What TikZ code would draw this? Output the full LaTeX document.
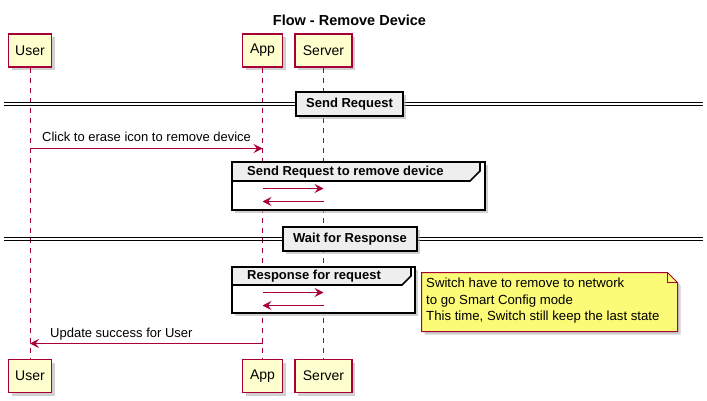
\documentclass[tikz,border=0pt]{standalone}
\usepackage{fontspec}
\setmainfont{Liberation Sans}
\usetikzlibrary{shadows,arrows.meta}
\definecolor{pborder}{HTML}{A80036}
\definecolor{pfill}{HTML}{FEFECE}
\definecolor{hdr}{HTML}{EEEEEE}
\definecolor{notefill}{HTML}{FBFB77}
\tikzset{
 shd/.style={drop shadow={shadow xshift=3pt,shadow yshift=-3pt,fill=black!30,opacity=0.6}},
 part/.style={draw=pborder,fill=pfill,line width=1.2pt,minimum height=33pt,inner sep=0pt,font=\fontsize{14}{16}\selectfont,shd},
 life/.style={draw=pborder,dash pattern=on 5pt off 5pt,line width=0.9pt},
 msg/.style={draw=pborder,line width=1pt,-{Stealth[length=9pt,width=9pt,inset=3.5pt]}},
 msgtxt/.style={font=\fontsize{13}{15}\selectfont,anchor=base west,inner sep=0pt},
 grp/.style={draw=black,line width=1.6pt},
 grphdr/.style={draw=black,fill=hdr,line width=1.6pt},
 grptxt/.style={font=\bfseries\fontsize{13}{15}\selectfont,anchor=west,inner sep=0pt},
 divline/.style={draw=black,line width=1pt},
 divbox/.style={draw=black,fill=hdr,line width=1.6pt,font=\bfseries\fontsize{13}{15}\selectfont,minimum height=24pt,inner sep=0pt,shd},
 notetxt/.style={font=\fontsize{13.2}{16.5}\selectfont,align=left,anchor=north west,inner sep=0pt},
}
\begin{document}
\begin{tikzpicture}[x=1pt,y=-1pt]
\useasboundingbox[fill=white] (0,0) rectangle (707,401);
% title
\node[font=\bfseries\fontsize{14.5}{16}\selectfont] (title) at (349.5,20) {Flow - Remove Device};
% participants
\node[part,minimum width=43pt] (uT) at (30,50.5) {User};
\node[part,minimum width=40pt] (aT) at (262.5,50.5) {App};
\node[part,minimum width=57pt] (sT) at (323.5,50.5) {Server};
\node[part,minimum width=43pt] (uB) at (30,376) {User};
\node[part,minimum width=40pt] (aB) at (262.5,376) {App};
\node[part,minimum width=57pt] (sB) at (323.5,376) {Server};
% lifelines
\draw[life] (uT.south) -- (uB.north);
\draw[life] (aT.south) -- (aB.north);
\draw[life] (sT.south) -- (sB.north);
% divider 1
\draw[divline] (4,102.5) -- (703,102.5);
\draw[divline] (4,105.5) -- (703,105.5);
\node[divbox,minimum width=107pt] (div1) at (349.5,104) {Send Request};
% message 1
\coordinate (m1a) at (30,148.5);
\coordinate (m1b) at (262.5,148.5);
\draw[msg] (m1a) -- (m1b);
\node[msgtxt] (m1t) at (42,142) {Click to erase icon to remove device};
% group 1
\path[grp,shd,fill=white] (232,162) rectangle (485,210);
\draw[grphdr] (232,162) -- (480,162) -- (480,171) -- (470,181) -- (232,181) -- cycle;
\draw[grp] (232,162) rectangle (485,210);
\node[grptxt] (g1t) at (247,172) {Send Request to remove device};
\coordinate (g1a) at (262.5,188.5);
\coordinate (g1b) at (323.5,188.5);
\draw[msg] (g1a) -- (g1b);
\coordinate (g1c) at (323.5,201.5);
\coordinate (g1d) at (262.5,201.5);
\draw[msg] (g1c) -- (g1d);
% divider 2
\draw[divline] (4,237.5) -- (703,237.5);
\draw[divline] (4,240.5) -- (703,240.5);
\node[divbox,minimum width=134pt] (div2) at (350,239) {Wait for Response};
% group 2
\path[grp,shd,fill=white] (232,267) rectangle (415,313);
\draw[grphdr] (232,267) -- (411,267) -- (411,276) -- (402,285) -- (232,285) -- cycle;
\draw[grp] (232,267) rectangle (415,313);
\node[grptxt] (g2t) at (247,276.5) {Response for request};
\coordinate (g2a) at (262.5,292.5);
\coordinate (g2b) at (323.5,292.5);
\draw[msg] (g2a) -- (g2b);
\coordinate (g2c) at (323.5,305.5);
\coordinate (g2d) at (262.5,305.5);
\draw[msg] (g2c) -- (g2d);
% note
\path[draw=pborder,fill=notefill,line width=1pt,shd] (421.5,272.5) -- (667.5,272.5) -- (677.5,282.5) -- (677.5,331.5) -- (421.5,331.5) -- cycle;
\draw[pborder,line width=1pt] (667.5,272.5) -- (667.5,282.5) -- (677.5,282.5);
\node[notetxt] (note) at (426,278) {Switch have to remove to network\\to go Smart Config mode\\This time, Switch still keep the last state};
% last message
\coordinate (m2a) at (262.5,343.5);
\coordinate (m2b) at (30,343.5);
\draw[msg] (m2a) -- (m2b);
\node[msgtxt] (m2t) at (50,337) {Update success for User};
\end{tikzpicture}
\end{document}
